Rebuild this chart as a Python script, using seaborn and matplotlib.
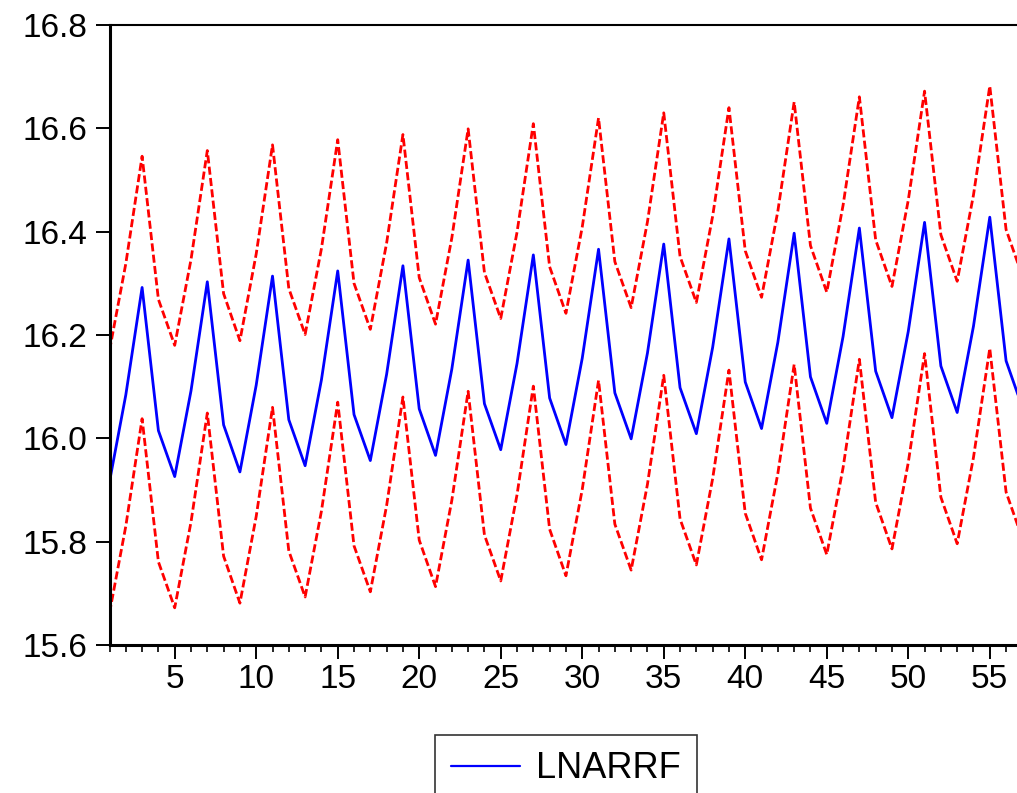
import numpy as np
import pandas as pd
import seaborn as sns
import matplotlib.pyplot as plt
from matplotlib.ticker import MultipleLocator

# Forecast (LNARRF) and +/- 2 S.E. bands, observations 1..57
obs = list(range(1, 58))

lnarrf = [15.916, 16.084, 16.292, 16.015,
          15.926, 16.092, 16.303, 16.026,
          15.935, 16.103, 16.314, 16.036,
          15.947, 16.113, 16.324, 16.046,
          15.957, 16.124, 16.334, 16.057,
          15.967, 16.134, 16.345, 16.067,
          15.978, 16.145, 16.355, 16.078,
          15.988, 16.155, 16.366, 16.088,
          15.999, 16.165, 16.376, 16.098,
          16.009, 16.176, 16.386, 16.109,
          16.019, 16.186, 16.397, 16.119,
          16.029, 16.197, 16.407, 16.130,
          16.040, 16.207, 16.418, 16.140,
          16.050, 16.217, 16.428, 16.150,
          16.060]

upper = [16.170, 16.338, 16.546, 16.269,
         16.180, 16.346, 16.557, 16.280,
         16.189, 16.357, 16.568, 16.290,
         16.201, 16.367, 16.578, 16.300,
         16.211, 16.378, 16.588, 16.311,
         16.221, 16.388, 16.599, 16.321,
         16.232, 16.399, 16.609, 16.332,
         16.242, 16.409, 16.620, 16.342,
         16.253, 16.419, 16.630, 16.352,
         16.263, 16.430, 16.640, 16.363,
         16.273, 16.440, 16.651, 16.373,
         16.283, 16.451, 16.661, 16.384,
         16.294, 16.461, 16.672, 16.394,
         16.304, 16.471, 16.682, 16.404,
         16.314]

lower = [15.662, 15.830, 16.038, 15.761,
         15.672, 15.838, 16.049, 15.772,
         15.681, 15.849, 16.060, 15.782,
         15.693, 15.859, 16.070, 15.792,
         15.703, 15.870, 16.080, 15.803,
         15.713, 15.880, 16.091, 15.813,
         15.724, 15.891, 16.101, 15.824,
         15.734, 15.901, 16.112, 15.834,
         15.745, 15.911, 16.122, 15.844,
         15.755, 15.922, 16.132, 15.855,
         15.765, 15.932, 16.143, 15.865,
         15.775, 15.943, 16.153, 15.876,
         15.786, 15.953, 16.164, 15.886,
         15.796, 15.963, 16.174, 15.896,
         15.806]

df = pd.DataFrame({'obs': obs, 'LNARRF': lnarrf, 'upper': upper, 'lower': lower})

sns.set_theme(style="white")
plt.rcParams['font.family'] = ['Liberation Sans', 'DejaVu Sans']
plt.rcParams['text.color'] = 'black'

W, H = 1017, 793
fig = plt.figure(figsize=(W / 100, H / 100), dpi=100)
ax = fig.add_axes([109.5 / W, (H - 645) / H, (W - 109.5) / W, 620 / H])

# dashed red bands, solid blue forecast
dash = (0, (2.9, 1.2))
sns.lineplot(data=df, x='obs', y='upper', ax=ax, color='#ff0000', lw=2.0, linestyle=dash)
sns.lineplot(data=df, x='obs', y='lower', ax=ax, color='#ff0000', lw=2.0, linestyle=dash)
sns.lineplot(data=df, x='obs', y='LNARRF', ax=ax, color='#0000ff', lw=2.0, label='LNARRF')

ax.set_xlim(1, 56.67)
ax.set_ylim(15.6, 16.8)
ax.set_xlabel('')
ax.set_ylabel('')

ax.xaxis.set_major_locator(MultipleLocator(5))
ax.xaxis.set_minor_locator(MultipleLocator(1))
ax.yaxis.set_major_locator(MultipleLocator(0.2))
ax.yaxis.set_major_formatter(plt.FuncFormatter(lambda v, p: f'{v:.1f}'))
ax.set_xticks([t for t in range(5, 57, 5)])

ax.tick_params(axis='both', which='major', direction='out', length=10, width=1.4,
               labelsize=24, color='black', labelcolor='black')
ax.tick_params(axis='x', which='minor', direction='out', length=5, width=1.4, bottom=True)
ax.tick_params(axis='y', which='major', pad=6)
ax.tick_params(axis='x', which='major', pad=4)
ax.tick_params(left=True, bottom=True)

for side in ['left', 'bottom']:
    ax.spines[side].set_linewidth(2.2)
    ax.spines[side].set_color('black')
ax.spines['top'].set_linewidth(1.5)
ax.spines['top'].set_color('black')
ax.spines['right'].set_visible(False)

ax.get_legend().remove()
leg = fig.legend(handles=ax.get_lines()[2:3], labels=['LNARRF'], loc='upper center',
                 bbox_to_anchor=(566 / W, 1 - 735 / H), fontsize=26, frameon=True,
                 fancybox=False, handlelength=1.9, handletextpad=0.45,
                 borderpad=0.45, borderaxespad=0)
leg.get_frame().set_edgecolor('black')
leg.get_frame().set_linewidth(1.2)
for t in leg.get_texts():
    t.set_color('black')
leg.get_lines()[0].set_linewidth(1.6)

fig.savefig('out.png', dpi=100)
